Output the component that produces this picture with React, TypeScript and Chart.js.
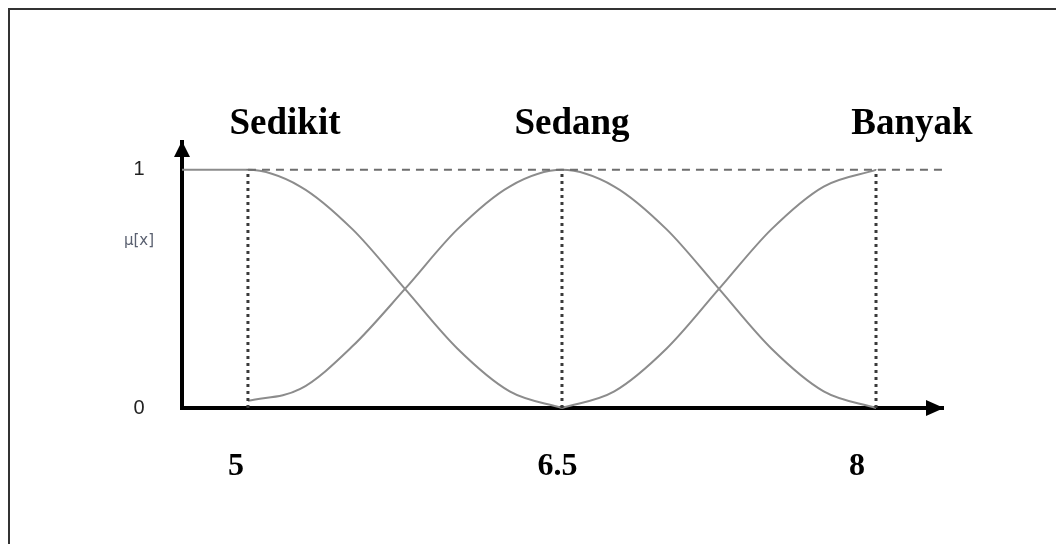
import { useEffect, useRef } from "react";
import { Chart, registerables } from "chart.js";

Chart.register(...registerables);

// ---- data ----
const X_MIN = 4.685;
const X_MAX = 8.32;
const Y_MAX = 1.117;

const sedikitX = [4.685, 5, 5.25, 5.5, 5.75, 6, 6.25, 6.5];
const sedikitY = [1, 1, 0.93, 0.75, 0.5, 0.25, 0.07, 0];

const sedangX = [5, 5.25, 5.5, 5.75, 6, 6.25, 6.5, 6.75, 7, 7.25, 7.5, 7.75, 8];
const sedangY = [0.03, 0.08, 0.26, 0.5, 0.75, 0.93, 1, 0.93, 0.75, 0.5, 0.25, 0.07, 0];

const banyakX = [6.5, 6.75, 7, 7.25, 7.5, 7.75, 8];
const banyakY = [0, 0.07, 0.25, 0.5, 0.75, 0.93, 1];

const peakX = [5, 6.5, 8];
const topLineX = [5, 8.32];

const categories = ["Sedikit", "Sedang", "Banyak"];
const categoryPos = [5.177, 6.548, 8.172];

const xTickLabels = ["5", "6.5", "8"];
const xTickPos = [4.943, 6.479, 7.909];

const yTickValues = [0, 0.7, 1];
const yTickLabels = ["0", "μ[x]", "1"];

const zip = (xs: number[], ys: number[]) => xs.map((x, i) => ({ x, y: ys[i] }));

const arrowPlugin = {
  id: "arrows",
  afterDraw(chart: any) {
    const { ctx, chartArea } = chart;
    const { left, top, right, bottom } = chartArea;
    ctx.save();
    ctx.fillStyle = "#000";
    ctx.beginPath();
    ctx.moveTo(left, top - 1);
    ctx.lineTo(left - 8, top + 15);
    ctx.lineTo(left + 8, top + 15);
    ctx.closePath();
    ctx.fill();
    ctx.beginPath();
    ctx.moveTo(right + 1, bottom);
    ctx.lineTo(right - 17, bottom - 8);
    ctx.lineTo(right - 17, bottom + 8);
    ctx.closePath();
    ctx.fill();
    ctx.restore();
  },
};

export default function App() {
  const ref = useRef<HTMLCanvasElement | null>(null);

  useEffect(() => {
    if (!ref.current) return;
    const curve = {
      borderColor: "#8c8c8c",
      borderWidth: 2,
      pointRadius: 0,
      cubicInterpolationMode: "monotone" as const,
      fill: false,
      clip: false as any,
    };
    const vertical = peakX.map((p) => ({
      data: [
        { x: p, y: 0 },
        { x: p, y: 1 },
      ],
      borderColor: "#3a3a3a",
      borderWidth: 3,
      borderDash: [3, 4],
      pointRadius: 0,
      fill: false,
    }));
    const chart = new Chart(ref.current, {
      type: "line",
      data: {
        datasets: [
          {
            data: zip(topLineX, [1, 1]),
            borderColor: "#6e6e6e",
            borderWidth: 2,
            borderDash: [8, 6],
            pointRadius: 0,
            fill: false,
            clip: false as any,
          },
          ...vertical,
          { ...curve, data: zip(sedikitX, sedikitY) },
          { ...curve, data: zip(sedangX, sedangY) },
          { ...curve, data: zip(banyakX, banyakY) },
        ] as any,
      },
      options: {
        animation: false,
        responsive: true,
        maintainAspectRatio: false,
        layout: { padding: { left: 0, top: 0, bottom: 0, right: 113 } },
        plugins: { legend: { display: false }, tooltip: { enabled: false } },
        scales: {
          x: {
            type: "linear",
            position: "bottom",
            min: X_MIN,
            max: X_MAX,
            grid: { color: "transparent", drawTicks: false },
            border: { display: true, color: "#000", width: 4 },
            afterBuildTicks: (axis: any) => {
              axis.ticks = xTickPos.map((v) => ({ value: v }));
            },
            afterFit: (axis: any) => {
              axis.height = 136;
            },
            ticks: {
              autoSkip: false,
              maxRotation: 0,
              padding: 40,
              color: "#000",
              font: { family: "Liberation Serif", size: 32, weight: "bold" },
              callback: (_v: any, i: number) => xTickLabels[i],
            },
          },
          x2: {
            type: "linear",
            position: "top",
            min: X_MIN,
            max: X_MAX,
            grid: { display: false, drawTicks: false },
            border: { display: false },
            afterBuildTicks: (axis: any) => {
              axis.ticks = categoryPos.map((v) => ({ value: v }));
            },
            afterFit: (axis: any) => {
              axis.height = 142;
            },
            ticks: {
              autoSkip: false,
              maxRotation: 0,
              padding: -5,
              color: "#000",
              font: { family: "Liberation Serif", size: 37, weight: "bold" },
              callback: (_v: any, i: number) => categories[i],
            },
          },
          y: {
            type: "linear",
            min: 0,
            max: Y_MAX,
            grid: { color: "transparent", drawTicks: false },
            border: { display: true, color: "#000", width: 4 },
            afterBuildTicks: (axis: any) => {
              axis.ticks = yTickValues.map((v) => ({ value: v }));
            },
            afterFit: (axis: any) => {
              axis.width = 182;
            },
            ticks: {
              autoSkip: false,
              crossAlign: "center",
              padding: 28,
              color: (ctx: any) => (ctx.index === 1 ? "#5a6070" : "#222"),
              font: (ctx: any) =>
                ctx.index === 1
                  ? { family: "DejaVu Sans", size: 15 }
                  : { family: "Liberation Sans", size: 20 },
              callback: (_v: any, i: number) => yTickLabels[i],
            },
          },
        },
      },
      plugins: [arrowPlugin],
    });
    return () => chart.destroy();
  }, []);

  return (
    <div
      style={{
        position: "fixed",
        left: 0,
        top: 0,
        width: 1056,
        height: 544,
        background: "#fff",
      }}
    >
      <canvas ref={ref} />
      <div
        style={{
          position: "absolute",
          left: 8,
          top: 8,
          right: -4,
          bottom: -4,
          borderTop: "2px solid #333",
          borderLeft: "2px solid #333",
          pointerEvents: "none",
        }}
      />
    </div>
  );
}
